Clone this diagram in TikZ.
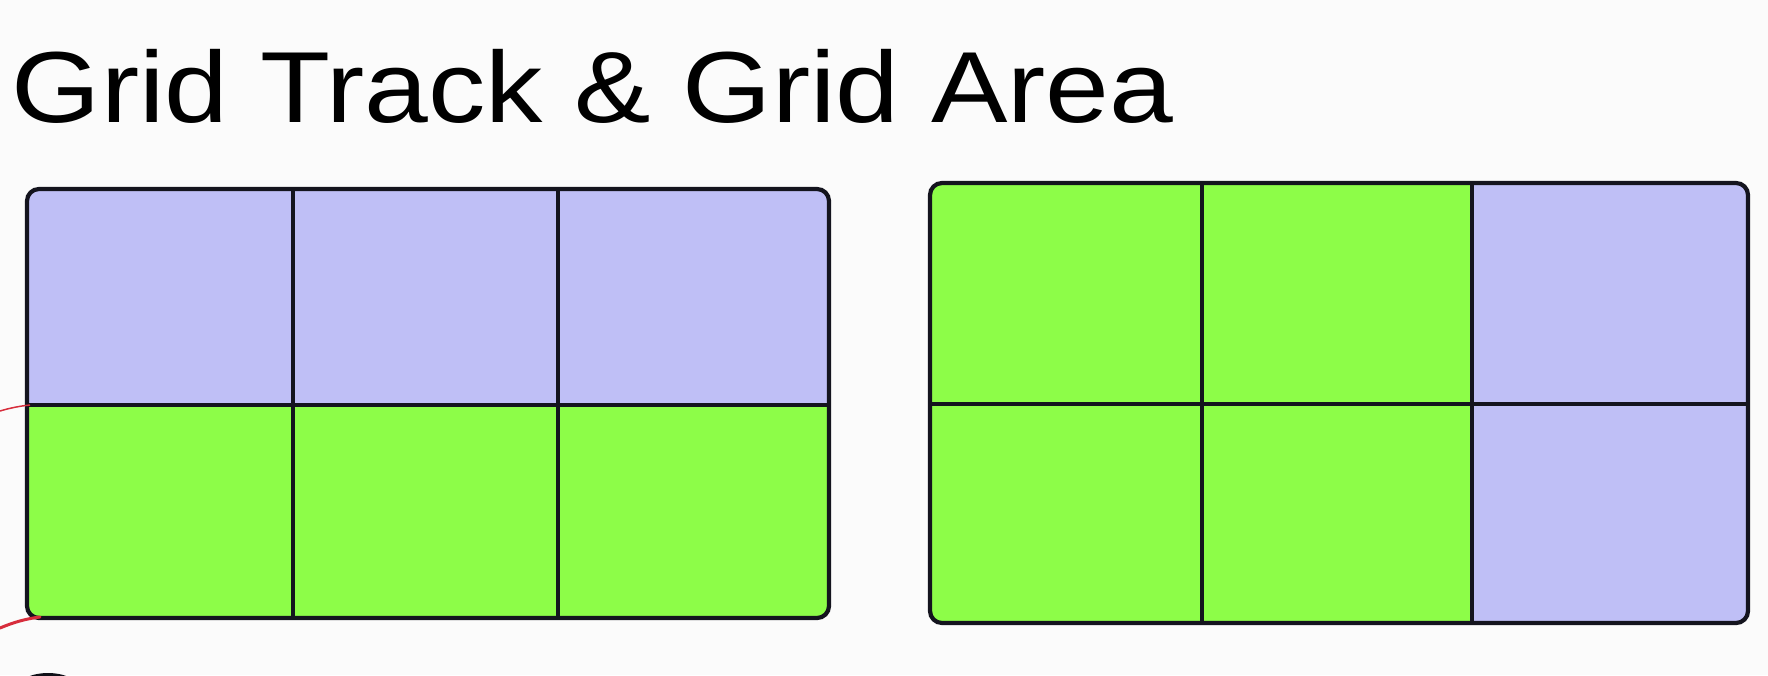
\documentclass[tikz,border=0pt]{standalone}
\usepackage{fontspec}
\setmainfont{Liberation Sans}
\definecolor{lav}{RGB}{191,191,246}
\definecolor{grn}{RGB}{141,253,72}
\definecolor{bg}{RGB}{251,251,251}
\definecolor{ink}{RGB}{20,20,30}
\definecolor{scribble}{RGB}{215,45,60}
\tikzset{
  outer/.style={draw=ink, line width=4.2pt, rounded corners=12pt},
  inner/.style={draw=ink, line width=3.4pt},
  titletext/.style={anchor=base west, inner sep=0pt, outer sep=0pt, text=black, font=\fontsize{101}{120}\selectfont},
}
\begin{document}
\begin{tikzpicture}[x=1pt,y=-1pt]
\useasboundingbox (0,0) rectangle (1768,675);
\fill[bg] (0,0) rectangle (1768,675);
% title
\node[titletext] (title) at (12,122) {\scalebox{1.135}[1]{Grid Track \& Grid Area}};
% ---------- left grid: 2 track rows ----------
\begin{scope}
  \clip[rounded corners=12pt] (27,189) rectangle (829,618);
  \fill[lav] (27,189) rectangle (829,405);
  \fill[grn] (27,405) rectangle (829,618);
\end{scope}
\coordinate (L1t) at (293,189); \coordinate (L1b) at (293,618);
\coordinate (L2t) at (558,189); \coordinate (L2b) at (558,618);
\coordinate (Lrl) at (27,405);  \coordinate (Lrr) at (829,405);
\draw[inner] (L1t) -- (L1b);
\draw[inner] (L2t) -- (L2b);
\draw[inner] (Lrl) -- (Lrr);
\draw[outer] (27,189) rectangle (829,618);
% ---------- right grid: area ----------
\begin{scope}
  \clip[rounded corners=12pt] (930,183) rectangle (1748,623);
  \fill[grn] (930,183) rectangle (1472,623);
  \fill[lav] (1472,183) rectangle (1748,623);
\end{scope}
\coordinate (R1t) at (1202,183); \coordinate (R1b) at (1202,623);
\coordinate (R2t) at (1472,183); \coordinate (R2b) at (1472,623);
\coordinate (Rrl) at (930,404);  \coordinate (Rrr) at (1748,404);
\draw[inner] (R1t) -- (R1b);
\draw[inner] (R2t) -- (R2b);
\draw[inner] (Rrl) -- (Rrr);
\draw[outer] (930,183) rectangle (1748,623);
% ---------- scribble marks at the left edge ----------
\draw[scribble, line width=1.5pt] (0,411) .. controls (10,408) and (20,406) .. (30,405);
\draw[scribble, line width=3pt, line cap=round] (0,628) .. controls (12,623) and (24,619) .. (40,617);
\fill[ink!80!black] (48,700) ellipse (40 and 27);
\end{tikzpicture}
\end{document}
